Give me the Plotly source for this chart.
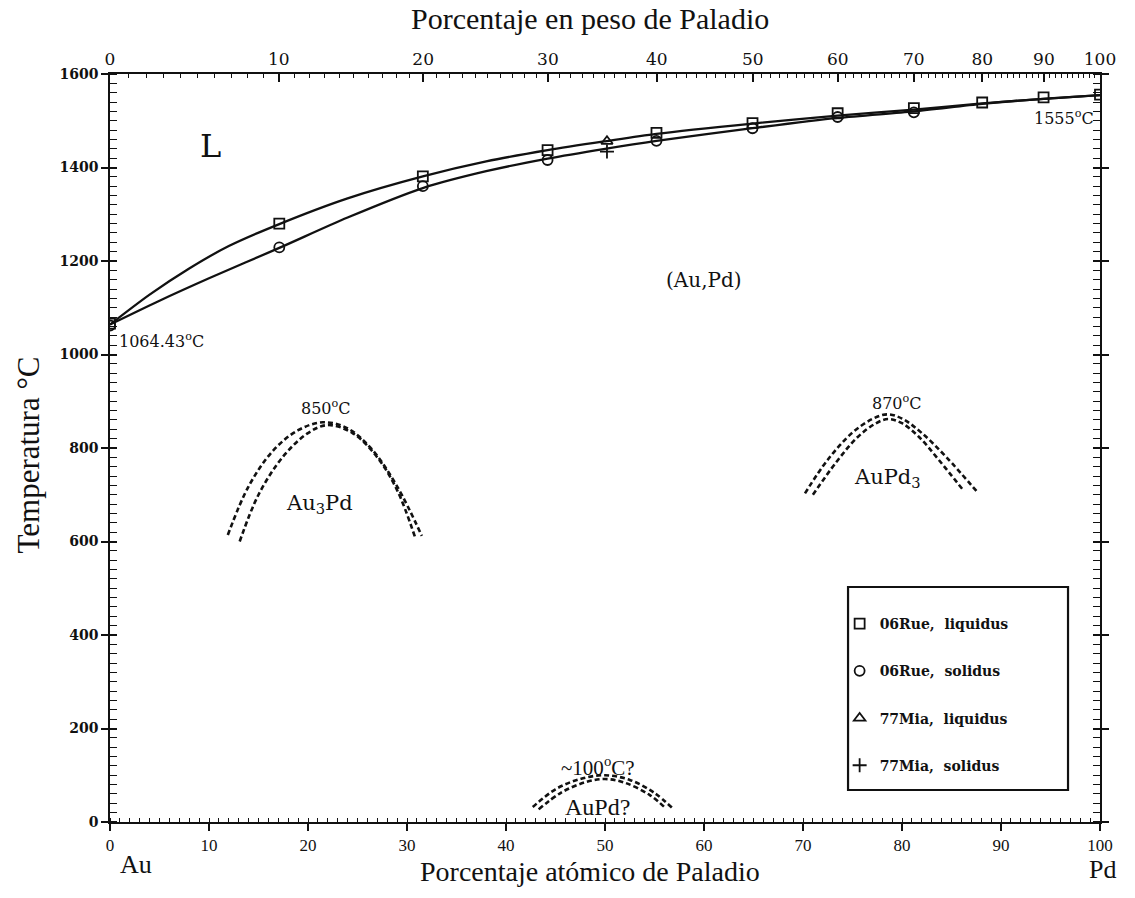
import plotly.graph_objects as go

# ---------------- data ----------------
# atomic % Pd positions and temperatures (°C)
rue_liq_x = [0, 17.1, 31.6, 44.2, 55.2, 64.9, 73.5, 81.2, 88.1, 94.3, 100]
rue_liq_y = [1066, 1280, 1381, 1437, 1474, 1495, 1516, 1527, 1539, 1550, 1556]
rue_sol_x = [0, 17.1, 31.6, 44.2, 55.2, 64.9, 73.5, 81.2]
rue_sol_y = [1062, 1229, 1360, 1416, 1457, 1484, 1508, 1518]
mia_liq_x = [50.2]
mia_liq_y = [1456]
mia_sol_x = [50.2]
mia_sol_y = [1434]

# liquidus / solidus curves
liq_x = [0, 4, 8, 12, 17.1, 24, 31.6, 38, 44.2, 50, 55.2, 64.9, 73.5, 81.2, 88.1, 94.3, 100]
liq_y = [1064, 1128, 1184, 1232, 1279, 1334, 1381, 1413, 1437, 1456, 1472, 1494, 1511, 1524, 1537, 1547, 1555]
sol_x = [0, 5, 10, 17.1, 24, 31.6, 38, 44.2, 50, 55.2, 64.9, 73.5, 81.2, 88.1, 94.3, 100]
sol_y = [1064, 1115, 1163, 1228, 1293, 1356, 1392, 1419, 1440, 1457, 1484, 1506, 1520, 1536, 1547, 1555]

# ordering domes (dashed), two lines each
au3pd_out_x = [11.9, 14, 16.5, 19, 21.5, 24, 26.5, 29, 31.5]
au3pd_out_y = [614, 718, 795, 838, 855, 842, 796, 718, 612]
au3pd_in_x = [13.1, 15, 17.5, 20, 22, 24.5, 27, 29, 30.8]
au3pd_in_y = [600, 700, 782, 832, 849, 832, 780, 710, 610]

aupd3_out_x = [70.2, 72.5, 75, 77, 78.5, 80, 82, 84.5, 87.6]
aupd3_out_y = [703, 775, 833, 862, 872, 863, 832, 780, 706]
aupd3_in_x = [71.0, 73.3, 75.5, 77.3, 78.6, 80, 81.7, 83.7, 86.1]
aupd3_in_y = [700, 768, 823, 852, 862, 853, 824, 775, 712]

aupd_out_x = [42.7, 45, 47.5, 50, 52.5, 55, 56.9]
aupd_out_y = [32, 70, 92, 100, 90, 62, 28]
aupd_in_x = [43.3, 45.5, 48, 50, 52, 54.5, 56.1]
aupd_in_y = [27, 62, 85, 92, 84, 58, 30]

# axes ticks
bottom_ticks = [0, 10, 20, 30, 40, 50, 60, 70, 80, 90, 100]
left_ticks = [0, 200, 400, 600, 800, 1000, 1200, 1400, 1600]
top_wt_labels = [0, 10, 20, 30, 40, 50, 60, 70, 80, 90, 100]
M_PD, M_AU = 106.42, 196.97


def wt_to_at(w):
    if w <= 0:
        return 0.0
    if w >= 100:
        return 100.0
    a = w / M_PD
    b = (100 - w) / M_AU
    return 100 * a / (a + b)


top_major = [wt_to_at(w) for w in top_wt_labels]
top_minor = [wt_to_at(w) for w in range(0, 101) if w % 10 != 0]

BLACK = "#111111"
SERIF = "DejaVu Serif"
TIMES = "Liberation Serif"

fig = go.Figure()

# curves
for xs, ys in [(liq_x, liq_y), (sol_x, sol_y)]:
    fig.add_trace(go.Scatter(x=xs, y=ys, mode="lines",
                             line=dict(color=BLACK, width=2.3, shape="spline", smoothing=0.8),
                             showlegend=False, hoverinfo="skip"))
for xs, ys in [(au3pd_out_x, au3pd_out_y), (au3pd_in_x, au3pd_in_y),
               (aupd3_out_x, aupd3_out_y), (aupd3_in_x, aupd3_in_y),
               (aupd_out_x, aupd_out_y), (aupd_in_x, aupd_in_y)]:
    fig.add_trace(go.Scatter(x=xs, y=ys, mode="lines",
                             line=dict(color=BLACK, width=2.6, dash="5px,3px", shape="spline"),
                             showlegend=False, hoverinfo="skip"))

# data points
mk = dict(size=10, color=BLACK, line=dict(width=1.8))
fig.add_trace(go.Scatter(x=rue_liq_x, y=rue_liq_y, mode="markers", name="06Rue,  liquidus",
                         legendgroup="a", marker=dict(symbol="square-open", **mk)))
fig.add_trace(go.Scatter(x=rue_sol_x, y=rue_sol_y, mode="markers", name="06Rue,  solidus",
                         legendgroup="b", marker=dict(symbol="circle-open", **mk)))
fig.add_trace(go.Scatter(x=mia_liq_x, y=mia_liq_y, mode="markers", name="77Mia,  liquidus",
                         legendgroup="c", marker=dict(symbol="triangle-up-open", **mk)))
fig.add_trace(go.Scatter(x=mia_sol_x, y=mia_sol_y, mode="markers", name="77Mia,  solidus",
                         legendgroup="d", marker=dict(symbol="cross-thin-open", **mk)))

# invisible traces to activate the top axes
fig.add_trace(go.Scatter(x=[0, 100], y=[0, 0], xaxis="x2", mode="lines", line=dict(width=0),
                         showlegend=False, hoverinfo="skip"))
fig.add_trace(go.Scatter(x=[0, 100], y=[0, 0], xaxis="x3", mode="lines", line=dict(width=0),
                         showlegend=False, hoverinfo="skip"))

fig.update_layout(
    width=1135, height=898,
    margin=dict(l=110, r=35, t=74, b=76),
    paper_bgcolor="white", plot_bgcolor="white",
    showlegend=True,
    legend=dict(x=0.737, y=0.286, xanchor="left", yanchor="top",
                borderwidth=0, bgcolor="rgba(0,0,0,0)",
                font=dict(family=SERIF, size=14, color=BLACK, weight="bold"),
                tracegroupgap=26, traceorder="grouped",
                itemwidth=30),
    xaxis=dict(range=[0, 100], tickvals=bottom_ticks, ticks="outside", ticklen=7, tickwidth=1.5,
               tickcolor=BLACK, showline=True, linecolor=BLACK, linewidth=1.5, showgrid=False,
               zeroline=False, mirror=False,
               tickfont=dict(family=TIMES, size=17, color=BLACK),
               minor=dict(dtick=1, ticks="inside", ticklen=4, tickcolor=BLACK, tickwidth=1)),
    xaxis2=dict(range=[0, 100], overlaying="x", side="top", tickvals=top_major,
                ticktext=[str(v) for v in top_wt_labels], ticks="inside", ticklen=8, tickwidth=1.5,
                tickcolor=BLACK, showline=True, linecolor=BLACK, linewidth=1.5, showgrid=False,
                zeroline=False, tickfont=dict(family=SERIF, size=17, color=BLACK)),
    xaxis3=dict(range=[0, 100], overlaying="x", side="top", tickvals=top_minor, ticks="inside",
                ticklen=4, tickwidth=1, tickcolor=BLACK, showticklabels=False, showline=False,
                showgrid=False, zeroline=False),
    yaxis=dict(range=[0, 1600], tickvals=left_ticks, ticks="outside", ticklen=7, tickwidth=1.5,
               tickcolor=BLACK, showline=True, linecolor=BLACK, linewidth=1.5, showgrid=False,
               zeroline=False, mirror="allticks",
               tickfont=dict(family=SERIF, size=14, color=BLACK, weight="bold"),
               minor=dict(dtick=20, ticks="inside", ticklen=4, tickcolor=BLACK, tickwidth=1)),
    shapes=[dict(type="rect", xref="paper", yref="paper", x0=0.7455, x1=0.9677, y0=0.0428, y1=0.3142,
                 line=dict(color=BLACK, width=2.2), fillcolor="rgba(0,0,0,0)", layer="above")],
)

ann = [
    # axis titles
    dict(text="Porcentaje en peso de Paladio", xref="paper", yref="paper", x=0.485, y=1, yshift=56,
         font=dict(family=TIMES, size=30)),
    dict(text="Porcentaje atómico de Paladio", xref="paper", yref="paper", x=0.485, y=0, yshift=-49,
         font=dict(family=TIMES, size=28)),
    dict(text="Temperatura °C", xref="paper", yref="paper", x=0, xshift=-82, y=0.49, textangle=-90,
         font=dict(family=TIMES, size=31)),
    dict(text="Au", xref="paper", yref="paper", x=0, xshift=26, y=0, yshift=-42,
         font=dict(family=TIMES, size=26)),
    dict(text="Pd", xref="paper", yref="paper", x=1, xshift=2, y=0, yshift=-47,
         font=dict(family=TIMES, size=26)),
    # region labels
    dict(text="L", x=10.2, y=1445, font=dict(family=SERIF, size=32)),
    dict(text="(Au,Pd)", x=60, y=1160, font=dict(family=SERIF, size=20)),
    dict(text="Au<sub>3</sub>Pd", x=21.2, y=680, font=dict(family=SERIF, size=21)),
    dict(text="AuPd<sub>3</sub>", x=78.5, y=735, font=dict(family=SERIF, size=21)),
    dict(text="AuPd?", x=49.2, y=33, font=dict(family=TIMES, size=24)),
    dict(text="850<sup>o</sup>C", x=21.8, y=887, font=dict(family=SERIF, size=16)),
    dict(text="870<sup>o</sup>C", x=79.5, y=898, font=dict(family=SERIF, size=16)),
    dict(text="~100<sup>o</sup>C?", x=49.3, y=118, font=dict(family=TIMES, size=21)),
    dict(text="1064.43<sup>o</sup>C", x=5.2, y=1030, font=dict(family=SERIF, size=16)),
    dict(text="1555<sup>o</sup>C", x=96.4, y=1508, font=dict(family=SERIF, size=16)),
]
for a in ann:
    a.setdefault("xref", "x")
    a.setdefault("yref", "y")
    a["showarrow"] = False
    a["xanchor"] = "center"
    a["yanchor"] = "middle"
    a["font"]["color"] = BLACK
fig.update_layout(annotations=ann)

fig.write_html("out.html")
